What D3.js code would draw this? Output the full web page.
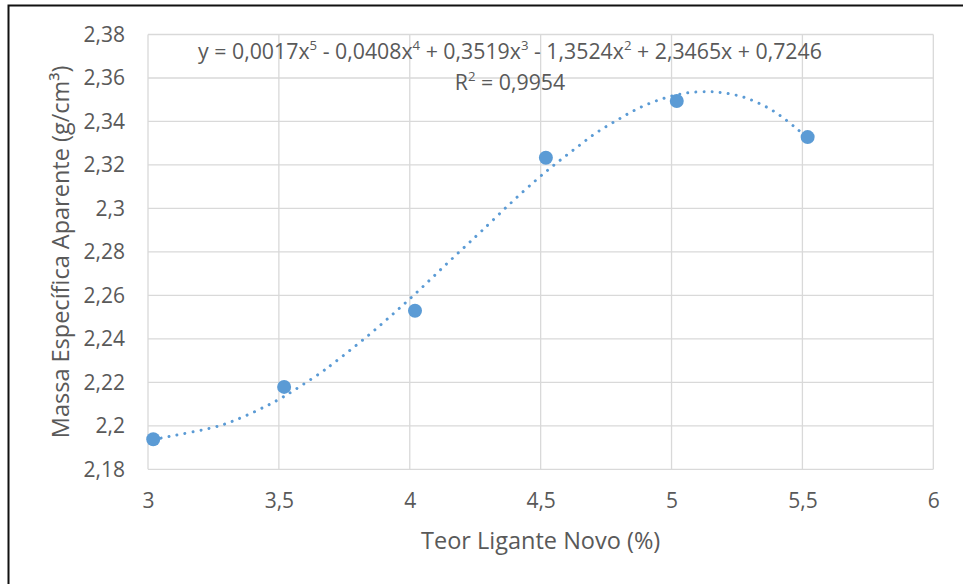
<!DOCTYPE html>
<html><head><meta charset="utf-8">
<script src="https://cdn.jsdelivr.net/npm/d3@7"></script>
<style>html,body{margin:0;padding:0;background:#fff;}svg{display:block;}</style>
</head><body>
<svg id="chart" width="963" height="584"></svg>
<script>
// Data
const xValues = [3.02, 3.52, 4.02, 4.52, 5.02, 5.52];
const yValues = [2.1938, 2.2179, 2.2529, 2.3233, 2.3494, 2.3328];
// Trendline (polynomial, order 5)
const trendX = [3.02, 3.056, 3.272, 3.361, 3.445, 3.502, 3.556, 3.661, 3.712, 3.836, 3.932, 4.002, 4.070, 4.139, 4.208, 4.276, 4.38, 4.485, 4.558, 4.633, 4.709, 4.789, 4.871, 4.959, 5.052, 5.144, 5.207, 5.269, 5.328, 5.385, 5.436, 5.486, 5.52];
const trendY = [2.1936, 2.1945, 2.2000, 2.2040, 2.2087, 2.2123, 2.2162, 2.2245, 2.2291, 2.2410, 2.2510, 2.2586, 2.2663, 2.2743, 2.2821, 2.2898, 2.3018, 2.3133, 2.3206, 2.3276, 2.3345, 2.3404, 2.3459, 2.3502, 2.3530, 2.3537, 2.3530, 2.3514, 2.3487, 2.3451, 2.3408, 2.3359, 2.3326];
const xTicks = [3, 3.5, 4, 4.5, 5, 5.5, 6];
const xTickLabels = ["3", "3,5", "4", "4,5", "5", "5,5", "6"];
const yTicks = [2.18, 2.2, 2.22, 2.24, 2.26, 2.28, 2.3, 2.32, 2.34, 2.36, 2.38];
const yTickLabels = ["2,18", "2,2", "2,22", "2,24", "2,26", "2,28", "2,3", "2,32", "2,34", "2,36", "2,38"];
const xTitle = "Teor Ligante Novo (%)";
const yTitle = "Massa Específica Aparente (g/cm³)";
const eqParts = [["y = 0,0017x", "5"], [" - 0,0408x", "4"], [" + 0,3519x", "3"], [" - 1,3524x", "2"], [" + 2,3465x + 0,7246", null]];
const r2Parts = [["R", "2"], [" = 0,9954", null]];

const svg = d3.select("#chart");
const font = "'Open Sans', 'Noto Sans', sans-serif";
const textColor = "#595959";
const blue = "#5B9BD5";

const pLeft = 148, pRight = 933.3, pTop = 34.5, pBottom = 469.3;
const x = d3.scaleLinear().domain([3, 6]).range([pLeft, pRight]);
const y = d3.scaleLinear().domain([2.18, 2.38]).range([pBottom, pTop]);

// outer frame
svg.append("rect").attr("x", 8.5).attr("y", 5.5).attr("width", 1000).attr("height", 700)
  .attr("fill", "none").attr("stroke", "#111").attr("stroke-width", 2);

// gridlines
const grid = svg.append("g");
grid.selectAll("line.h").data(yTicks).join("line")
  .attr("x1", pLeft).attr("x2", pRight).attr("y1", d => y(d)).attr("y2", d => y(d))
  .attr("stroke", "#d9d9d9").attr("stroke-width", 1.3);
grid.selectAll("line.v").data(xTicks).join("line")
  .attr("y1", pTop).attr("y2", pBottom).attr("x1", d => x(d)).attr("x2", d => x(d))
  .attr("stroke", "#d9d9d9").attr("stroke-width", 1.3);

// axes (labels only)
const xAxis = d3.axisBottom(x).tickValues(xTicks).tickFormat((d, i) => xTickLabels[i]).tickSize(0).tickPadding(24);
const gx = svg.append("g").attr("transform", `translate(0,${pBottom})`).call(xAxis);
gx.select(".domain").remove();
gx.selectAll("text").attr("fill", textColor).style("font-family", font).style("font-size", "21px");

const yAxis = d3.axisLeft(y).tickValues(yTicks).tickFormat((d, i) => yTickLabels[i]).tickSize(0).tickPadding(23);
const gy = svg.append("g").attr("transform", `translate(${pLeft},0)`).call(yAxis);
gy.select(".domain").remove();
gy.selectAll("text").attr("fill", textColor).style("font-family", font).style("font-size", "21px");

// axis titles
svg.append("text").attr("x", (pLeft + pRight) / 2).attr("y", 549).attr("text-anchor", "middle")
  .attr("fill", textColor).style("font-family", font).style("font-size", "23.5px").text(xTitle);
svg.append("text").attr("transform", `translate(69,${(pTop + pBottom) / 2}) rotate(-90)`).attr("text-anchor", "middle")
  .attr("fill", textColor).style("font-family", font).style("font-size", "23.5px").text(yTitle);

// trendline
const line = d3.line().x(d => x(d[0])).y(d => y(d[1])).curve(d3.curveCatmullRom);
svg.append("path").datum(trendX.map((v, i) => [v, trendY[i]]))
  .attr("d", line).attr("fill", "none").attr("stroke", blue)
  .attr("stroke-width", 3).attr("stroke-linecap", "round").attr("stroke-dasharray", "0.01 8.1");

// points
svg.selectAll("circle.pt").data(xValues).join("circle")
  .attr("cx", d => x(d)).attr("cy", (d, i) => y(yValues[i])).attr("r", 7).attr("fill", blue);

// equation label
function richText(parts, cx, cy, size) {
  const t = svg.append("text").attr("x", cx).attr("y", cy).attr("text-anchor", "middle")
    .attr("fill", textColor).style("font-family", font).style("font-size", size + "px");
  parts.forEach(([main, sup]) => {
    t.append("tspan").text(main);
    if (sup) {
      t.append("tspan").attr("baseline-shift", "super").style("font-size", (size * 0.62) + "px").text(sup);
    }
  });
  return t;
}
richText(eqParts, 510, 59, 21.3);
richText(r2Parts, 510, 90, 21.3);
</script>
</body></html>
